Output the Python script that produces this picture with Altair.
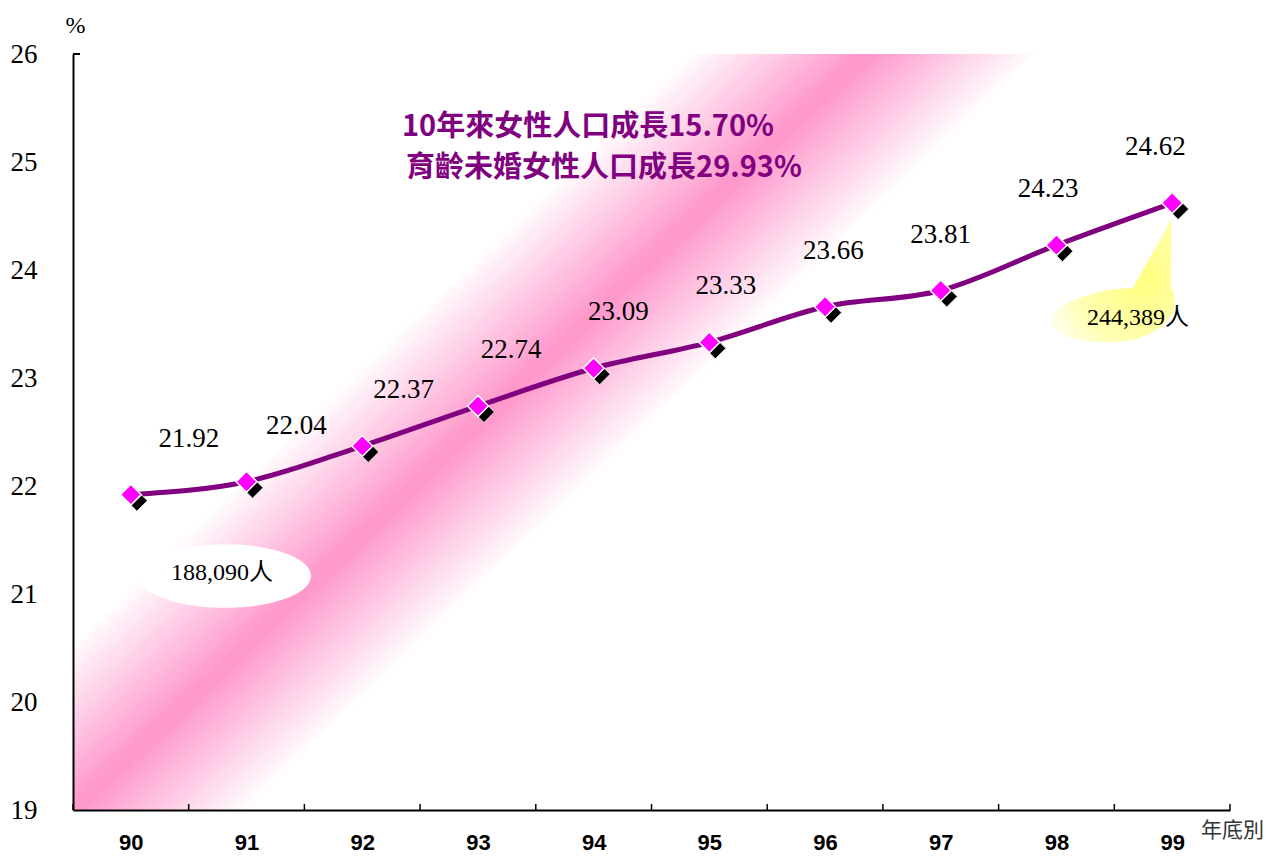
import altair as alt
import pandas as pd

# ---------------- data ----------------
years = [90, 91, 92, 93, 94, 95, 96, 97, 98, 99]
ratio = [21.92, 22.04, 22.37, 22.74, 23.09, 23.33, 23.66, 23.81, 24.23, 24.62]
y_ticks = [19, 20, 21, 22, 23, 24, 25, 26]
headline = ["10年來女性人口成長15.70%", "育齡未婚女性人口成長29.93%"]
note_start = "188,090人"
note_end = "244,389人"
x_title = "年底別"
y_title = "%"

# ---------------- layout / style ----------------
W, H = 1157, 756
STEP = W / len(years)
SERIF = "'Liberation Serif', 'Noto Sans CJK TC', serif"
CJK = "Noto Sans CJK TC"
PURPLE = "#800080"
MAGENTA = "#FF00FF"

df = pd.DataFrame({"year": years, "ratio": ratio})
one = pd.DataFrame({"k": [0]})

xs = alt.Scale(domain=[years[0] - 0.5, years[-1] + 0.5], nice=False, zero=False)
ys = alt.Scale(domain=[y_ticks[0], y_ticks[-1]], nice=False, zero=False)

x_axis = alt.Axis(
    values=years, format="d", title=x_title, grid=False, ticks=False, tickSize=0,
    domainColor="black", domainWidth=2, labelFont="'Liberation Sans', sans-serif",
    labelFontWeight="bold", labelFontSize=22, labelColor="black",
    labelPadding=32, labelBaseline="middle", labelOverlap=False,
    titleX=1159, titleY=20, titleAngle=0, titleAlign="center",
    titleBaseline="middle", titleFont=CJK, titleFontWeight="normal",
    titleFontSize=21, titleColor="#333333", zindex=1,
)
y_axis = alt.Axis(
    values=y_ticks, format="d", title=y_title, grid=False, ticks=False, tickSize=0,
    domainColor="black", domainWidth=2, labelFont=SERIF,
    labelFontSize=27, labelColor="black", labelPadding=36, labelOverlap=False,
    titleAngle=0, titleX=2, titleY=-29, titleAlign="center", titleBaseline="middle",
    titleFont=SERIF, titleFontSize=24, titleFontWeight="normal",
    titleColor="black", zindex=1,
)


def X(field):
    return alt.X(field, scale=xs, axis=x_axis)


def Y(field):
    return alt.Y(field, scale=ys, axis=y_axis)


# diagonal pink band in the plot background
band_grad = alt.LinearGradient(
    gradient="linear",
    stops=[
        alt.GradientStop(color="#FFFFFF", offset=0),
        alt.GradientStop(color="#FFFFFF", offset=0.27),
        alt.GradientStop(color="#FF99CC", offset=0.515),
        alt.GradientStop(color="#FF99CC", offset=0.533),
        alt.GradientStop(color="#FFFFFF", offset=0.77),
        alt.GradientStop(color="#FFFFFF", offset=1),
    ],
    x1=0.0301, y1=0.4937, x2=0.4427, y2=0.7763,
)
bg = alt.Chart(one).mark_rect(fill=band_grad).encode(
    x=alt.value(0), x2=alt.value(W), y=alt.value(0), y2=alt.value(H)
)

# white ellipse callout (start value)
ELLIPSE = ("M -1 0 C -1 -0.2045 -0.552 -0.37 0 -0.37 C 0.552 -0.37 1 -0.2045 1 0 "
           "C 1 0.2045 0.552 0.37 0 0.37 C -0.552 0.37 -1 0.2045 -1 0 Z")
ell = alt.Chart(one).mark_point(
    shape=ELLIPSE, size=172 ** 2, filled=True, fill="white", opacity=1, strokeWidth=0
).encode(x=alt.value(152), y=alt.value(522))
ell_text = alt.Chart(one).mark_text(
    text=note_start, font=SERIF, fontSize=24, color="black", align="center", baseline="middle"
).encode(x=alt.value(149), y=alt.value(519))

# yellow speech-bubble callout (end value)
BUBBLE = ("M 0.59 -0.82 L 0.58 -0.12 C 0.70 0.05 0.55 0.40 0 0.42 "
          "C -0.45 0.44 -0.68 0.30 -0.62 0.18 C -0.52 0 -0.10 -0.12 0.20 -0.12 Z")
bubble_grad = alt.RadialGradient(
    gradient="radial",
    stops=[
        alt.GradientStop(color="#FFFF80", offset=0),
        alt.GradientStop(color="#FFFFB4", offset=0.6),
        alt.GradientStop(color="#FFFFFF", offset=1),
    ],
    x1=0.75, y1=0.5, r1=0, x2=0.75, y2=0.5, r2=0.9,
)
bubble = alt.Chart(one).mark_point(
    shape=BUBBLE, size=40000, filled=True, fill=bubble_grad, opacity=1, strokeWidth=0
).encode(x=alt.value(1040), y=alt.value(246))
bubble_text = alt.Chart(one).mark_text(
    text=note_end, font=SERIF, fontSize=24, color="black", align="center", baseline="middle"
).encode(x=alt.value(1065), y=alt.value(264))

# main line
line = alt.Chart(df).mark_line(color=PURPLE, strokeWidth=5, interpolate="monotone").encode(
    x=X("year:Q"), y=Y("ratio:Q")
)

# x-axis tick marks at category boundaries (pointing inward)
ticks = alt.Chart(df).transform_calculate(edge="datum.year - 0.5").mark_rule(
    color="black", strokeWidth=1.5
).encode(x=X("edge:Q"), y=alt.value(H - 6), y2=alt.value(H))
end_tick = alt.Chart(df).transform_filter(f"datum.year == {years[-1]}").transform_calculate(
    edge="datum.year + 0.5"
).mark_rule(color="black", strokeWidth=1.5).encode(
    x=X("edge:Q"), y=alt.value(H - 6), y2=alt.value(H)
)
top_tick = alt.Chart(one).mark_rule(color="black", strokeWidth=2).encode(
    x=alt.value(0), x2=alt.value(7), y=alt.value(0)
)

# diamond markers with a black drop shadow
shadow = alt.Chart(df).mark_point(
    shape="diamond", size=440, filled=True, color="black", opacity=1,
    xOffset=6, yOffset=6, stroke="#DDDDDD", strokeWidth=1,
).encode(x=X("year:Q"), y=Y("ratio:Q"))
dia = alt.Chart(df).mark_point(
    shape="diamond", size=440, filled=True, fill=MAGENTA, opacity=1,
    stroke="white", strokeWidth=1.5,
).encode(x=X("year:Q"), y=Y("ratio:Q"))

# value labels (placed up and to the side as in the original)
labels = alt.Chart(df).transform_calculate(
    lx=f"datum.year + (58 - 8.3 * (datum.year - {years[0]})) / {STEP}"
).mark_text(
    font=SERIF, fontSize=27, color="black", align="center", baseline="middle", dy=-56
).encode(
    x=X("lx:Q"), y=Y("ratio:Q"), text=alt.Text("ratio:Q", format=".2f"),
)

# headline text
t1 = alt.Chart(one).mark_text(
    text=headline[0], font=CJK, fontWeight="bold", fontSize=29, color=PURPLE,
    align="center", baseline="middle",
).encode(x=alt.value(515), y=alt.value(73))
t2 = alt.Chart(one).mark_text(
    text=headline[1], font=CJK, fontWeight="bold", fontSize=29, color=PURPLE,
    align="center", baseline="middle",
).encode(x=alt.value(531), y=alt.value(114))

chart = alt.layer(
    bg, ell, ell_text, bubble, line, ticks, end_tick, top_tick, shadow, dia, labels,
    bubble_text, t1, t2,
).properties(
    width=W, height=H,
    padding={"left": 65, "top": 46, "right": 40, "bottom": 44},
    autosize=alt.AutoSizeParams(type="none"),
    background="white",
).configure_view(stroke=None)

chart.save("out.html", embed_options={"renderer": "svg", "actions": False})
